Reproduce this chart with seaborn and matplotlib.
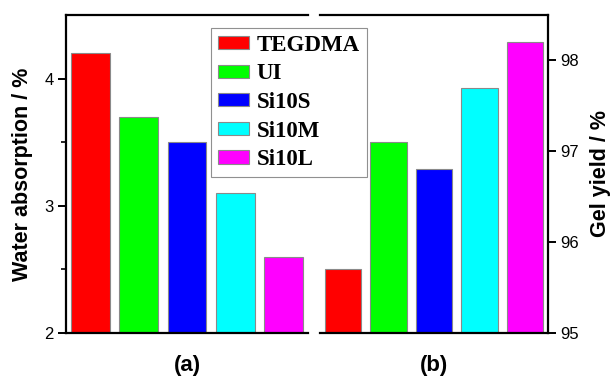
import matplotlib
matplotlib.use("Agg")
import matplotlib.pyplot as plt
import matplotlib.patches as mpatches
import seaborn as sns
import pandas as pd

samples = ["TEGDMA", "UI", "Si10S", "Si10M", "Si10L"]
colors = ["#FF0000", "#00FF00", "#0000FF", "#00FFFF", "#FF00FF"]
water_absorption = [4.2, 3.7, 3.5, 3.1, 2.6]
gel_yield = [95.7, 97.1, 96.8, 97.7, 98.2]
left_ticks = [2, 3, 4]
right_ticks = [95, 96, 97, 98]

sns.set_style("white")
plt.rcParams['font.family'] = ['Liberation Sans', 'DejaVu Sans']
plt.rcParams['text.color'] = 'black'
plt.rcParams['axes.labelcolor'] = 'black'
plt.rcParams['ytick.color'] = 'black'
plt.rcParams['xtick.color'] = 'black'

df_a = pd.DataFrame({"sample": samples, "value": water_absorption})
df_b = pd.DataFrame({"sample": samples, "value": gel_yield})

W, H = 610, 380
fig = plt.figure(figsize=(W / 100, H / 100), dpi=100)
ax1 = fig.add_axes([66 / W, 1 - 333 / H, (308 - 66) / W, (333 - 15) / H])
ax2 = fig.add_axes([320 / W, 1 - 333 / H, (548 - 320) / W, (333 - 15) / H])

pal = dict(zip(samples, colors))
for ax, df in ((ax1, df_a), (ax2, df_b)):
    sns.barplot(data=df, x="sample", y="value", hue="sample", palette=pal,
                order=samples, hue_order=samples, dodge=False, legend=False,
                saturation=1, width=0.8, edgecolor="#8a8a8a", linewidth=0.8, ax=ax)
    ax.set_xlim(-0.5, 4.5)
    ax.set_xticks([])
    ax.set_ylabel("")
    for s in ax.spines.values():
        s.set_linewidth(1.6)
        s.set_color("black")

ax1.set_ylim(2, 4.5)
ax1.set_yticks(left_ticks)
ax1.set_yticks([2.5, 3.5], minor=True)
ax1.spines["right"].set_visible(False)
ax1.tick_params(axis="y", which="major", direction="out", length=6, width=1.4,
                labelsize=12, left=True, pad=3)
ax1.tick_params(axis="y", which="minor", direction="out", length=3.5, width=1.2, left=True)
ax1.set_ylabel("Water absorption / %", fontsize=15.5, fontweight="bold", labelpad=8)
ax1.set_xlabel("(a)", fontsize=16, fontweight="bold", labelpad=16)

ax2.set_ylim(95, 98.5)
ax2.set_yticks(right_ticks)
ax2.spines["left"].set_visible(False)
ax2.yaxis.tick_right()
ax2.yaxis.set_label_position("right")
ax2.tick_params(axis="y", which="major", direction="out", length=6, width=1.4,
                labelsize=12, right=True, left=False, pad=3)
ax2.set_ylabel("Gel yield / %", fontsize=15.5, fontweight="bold", labelpad=8,
               rotation=90)
ax2.set_xlabel("(b)", fontsize=16, fontweight="bold", labelpad=16)

handles = [mpatches.Patch(facecolor=c, edgecolor="#8a8a8a", linewidth=0.8) for c in colors]
leg = fig.legend(handles, samples, loc="upper left",
                 bbox_to_anchor=(211 / W, 1 - 28 / H), bbox_transform=fig.transFigure,
                 prop={"family": ["Liberation Serif"], "weight": "bold", "size": 16.5},
                 frameon=True, fancybox=False, edgecolor="#909090", framealpha=1,
                 borderaxespad=0, borderpad=0.3, labelspacing=0.33,
                 handlelength=1.35, handleheight=0.5, handletextpad=0.35)
leg.get_frame().set_linewidth(0.8)

fig.savefig("out.png", dpi=100)
